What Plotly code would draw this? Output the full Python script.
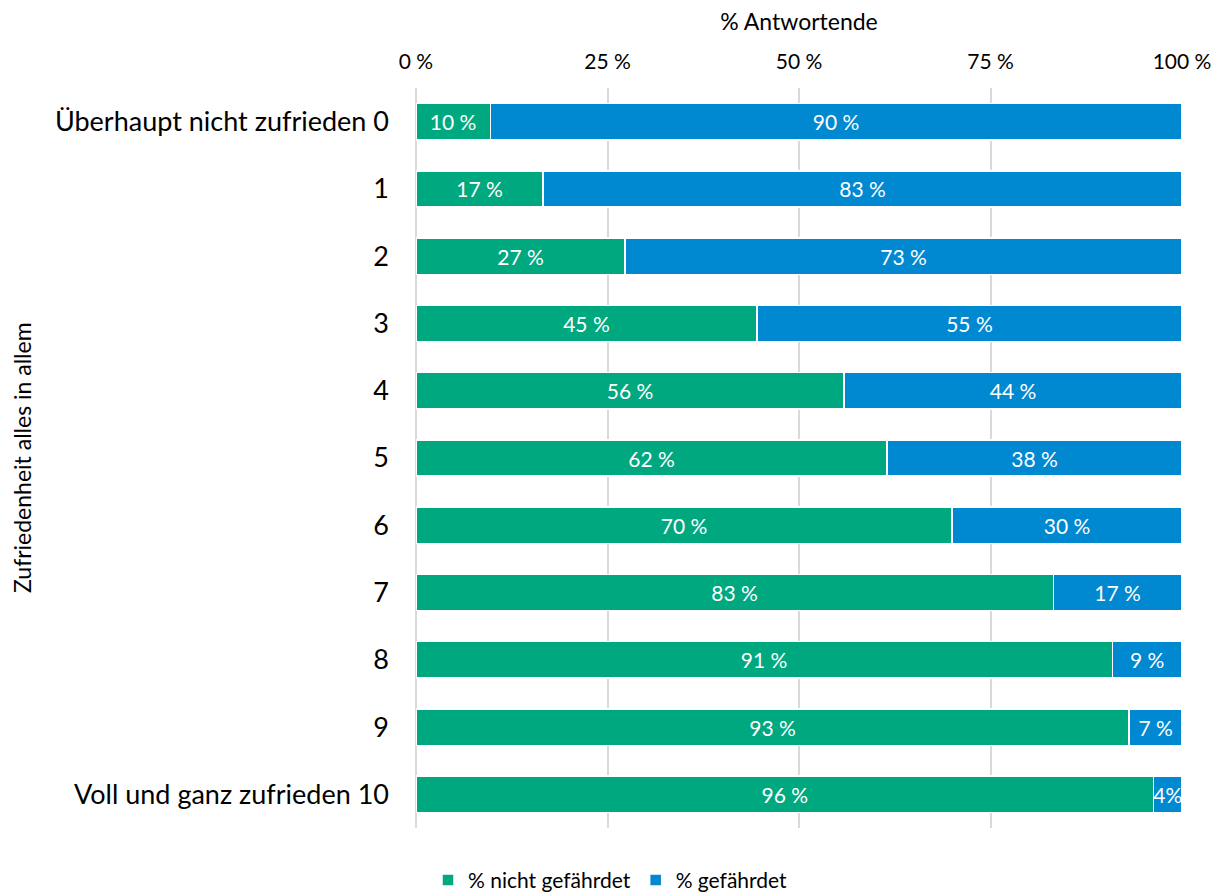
import plotly.graph_objects as go

categories = ["Überhaupt nicht zufrieden 0", "1", "2", "3", "4", "5", "6", "7", "8", "9", "Voll und ganz zufrieden 10"]
nicht_gefaehrdet = [9.7, 16.6, 27.3, 44.5, 55.9, 61.5, 70.0, 83.2, 90.9, 93.1, 96.3]
gefaehrdet = [90.3, 83.4, 72.7, 55.5, 44.1, 38.5, 30.0, 16.8, 9.1, 6.9, 3.7]
labels_nicht = ["10 %", "17 %", "27 %", "45 %", "56 %", "62 %", "70 %", "83 %", "91 %", "93 %", "96 %"]
labels_gef = ["90 %", "83 %", "73 %", "55 %", "44 %", "38 %", "30 %", "17 %", "9 %", "7 %", "4%"]
tick_vals = [0, 25, 50, 75, 100]
tick_text = ["0 %", "25 %", "50 %", "75 %", "100 %"]

FONT = "Lato"
GREEN = "#00A880"
BLUE = "#0088D1"

fig = go.Figure()
fig.add_trace(go.Bar(
    y=categories, x=nicht_gefaehrdet, orientation="h", name="% nicht gefährdet",
    marker=dict(color=GREEN, line=dict(color="white", width=1.5)),
    text=labels_nicht, textposition="inside", insidetextanchor="middle", textangle=0,
    textfont=dict(color="white", size=21, family=FONT), constraintext="none",
    width=0.54, hoverinfo="x+y"))
fig.add_trace(go.Bar(
    y=categories, x=gefaehrdet, orientation="h", name="% gefährdet",
    marker=dict(color=BLUE, line=dict(color="white", width=1.5)),
    text=labels_gef, textposition="inside", insidetextanchor="middle", textangle=0,
    textfont=dict(color="white", size=21, family=FONT), constraintext="none",
    width=0.54, hoverinfo="x+y"))

fig.update_layout(
    barmode="stack",
    width=1221, height=892,
    margin=dict(l=416, r=39, t=88, b=64, autoexpand=False),
    plot_bgcolor="white", paper_bgcolor="white",
    font=dict(family=FONT, color="black"),
    showlegend=True,
    legend=dict(orientation="h", xref="container", yref="container", x=0.5, y=0.013,
                xanchor="center", yanchor="middle", font=dict(size=21, family=FONT),
                itemwidth=30, traceorder="normal"),
    xaxis=dict(side="top", range=[0, 100], tickvals=tick_vals, ticktext=tick_text,
               showgrid=True, gridcolor="#D9D9D9", gridwidth=1.5,
               zeroline=True, zerolinecolor="#D9D9D9", zerolinewidth=1.5,
               showline=False, ticks="", tickfont=dict(size=21, family=FONT),
               ticklabelstandoff=14, automargin=False,
               title=dict(text="% Antwortende", font=dict(size=23, family=FONT), standoff=10)),
    yaxis=dict(autorange="reversed", showgrid=False, ticks="", ticklabelstandoff=26,
               automargin=False, tickfont=dict(size=27, family=FONT)),
    uniformtext=dict(minsize=21, mode="show"),
)
fig.add_annotation(text="Zufriedenheit alles in allem", xref="paper", yref="paper",
                   x=(22 - 416) / 766, y=0.5, textangle=-90, showarrow=False,
                   font=dict(size=23, family=FONT), xanchor="center", yanchor="middle")

fig.write_html("out.html")
